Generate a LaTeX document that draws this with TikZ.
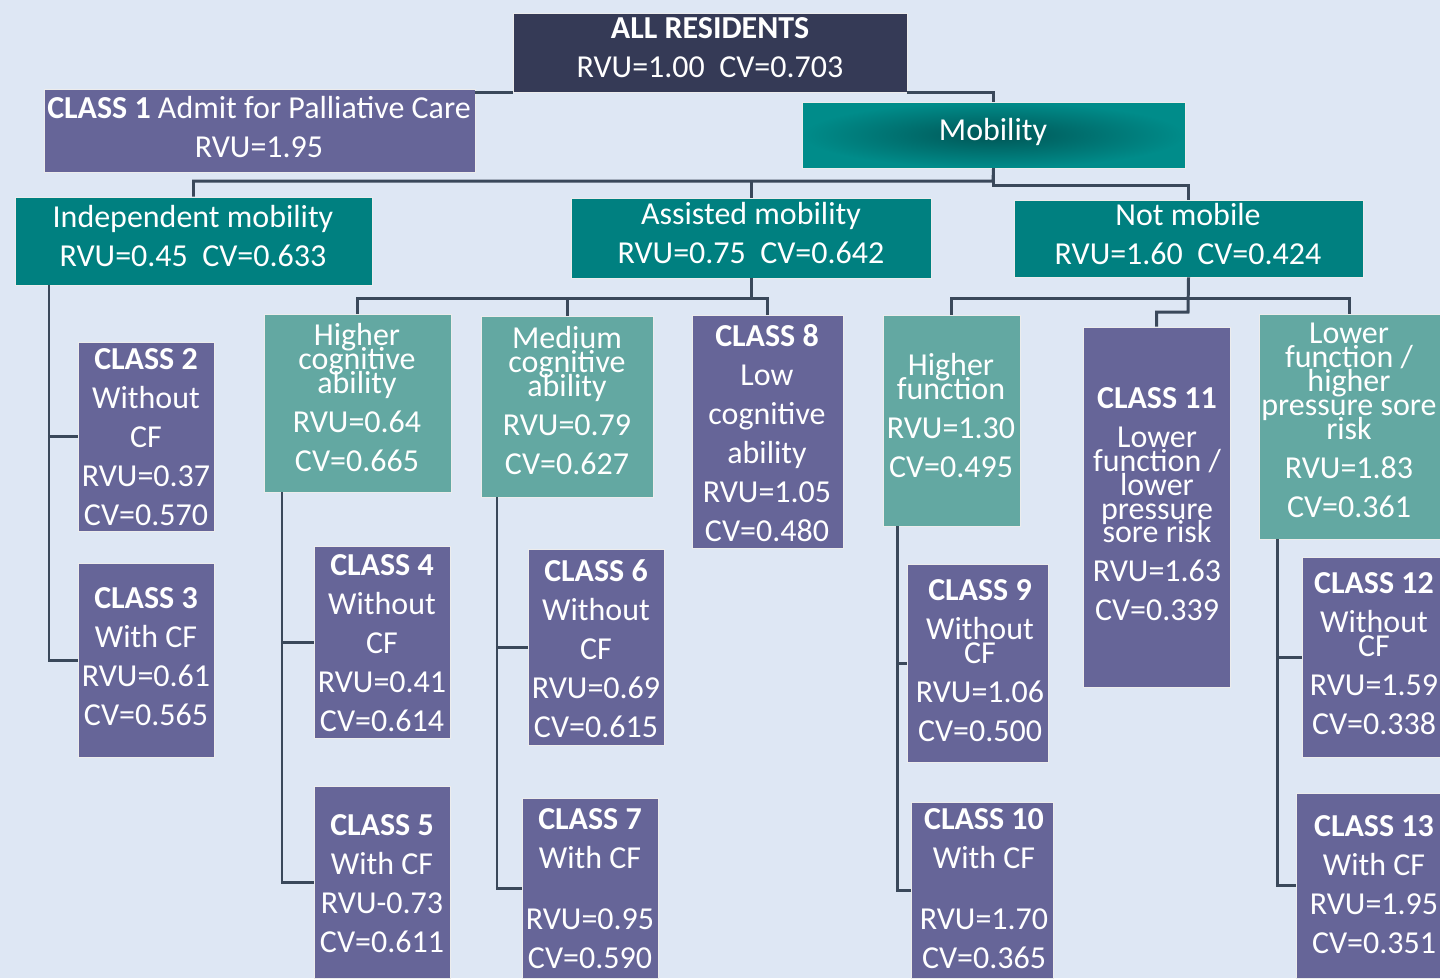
\documentclass[tikz,border=0pt]{standalone}
\usepackage{fontspec}
\setmainfont{Carlito}
\usetikzlibrary{fit, positioning}
\definecolor{bgcol}{RGB}{222,231,244}
\definecolor{navyc}{RGB}{53,58,86}
\definecolor{purplec}{RGB}{102,101,152}
\definecolor{tealc}{RGB}{0,128,128}
\definecolor{tealdark}{RGB}{0,86,86}
\definecolor{teallight}{RGB}{0,140,138}
\definecolor{lightc}{RGB}{99,168,162}
\definecolor{connc}{RGB}{58,72,90}
\tikzset{
    basebox/.style={inner sep=0pt, draw=white!85!gray, line width=0.5pt},
    navybox/.style={basebox, fill=navyc},
    purplebox/.style={basebox, fill=purplec},
    tealbox/.style={basebox, fill=tealc},
    lightbox/.style={basebox, fill=lightc},
    mobbox/.style={basebox, inner color=tealdark, outer color=teallight},
    txt/.style={text=white, align=center, inner sep=0pt, anchor=north,
        font=\fontsize{18.2}{22.2}\selectfont},
    conn/.style={draw=connc, line width=1.7pt}
}

\begin{document}
\begin{tikzpicture}[x=0.02cm, y=-0.02cm]
        \useasboundingbox (0,0) rectangle (1440,978);
        \fill[bgcol] (0,0) rectangle (1440,978);

        % top levels
        \node[navybox, fit={(513,13) (907,92)}] (all) {};
        \node[txt] (allt) at (710,17) {\textbf{ALL RESIDENTS}\\RVU=1.00\ \ CV=0.703};
        \node[purplebox, fit={(44,89) (475,172)}] (c1) {};
        \node[txt] (c1t) at (259,96) {\textbf{CLASS 1} Admit for Palliative Care\\RVU=1.95};
        \node[mobbox, fit={(802,102) (1185,168)}] (mob) {};
        \node[txt] (mobt) at (993,118) {Mobility};

        \node[tealbox, fit={(15,197) (372,285)}] (ind) {};
        \node[txt] (indt) at (193,205) {Independent mobility\\RVU=0.45\ \ CV=0.633};
        \node[tealbox, fit={(571,198) (931,278)}] (ass) {};
        \node[txt] (asst) at (751,202) {Assisted mobility\\RVU=0.75\ \ CV=0.642};
        \node[tealbox, fit={(1014,200) (1363,277)}] (notm) {};
        \node[txt] (notmt) at (1188,203) {Not mobile\\RVU=1.60\ \ CV=0.424};

        % independent mobility
        \node[purplebox, fit={(78,342) (214,531)}] (c2) {};
        \node[txt] (c2t) at (146,348) {\textbf{CLASS 2}\\Without\\CF\\RVU=0.37\\CV=0.570};
        \node[purplebox, fit={(78,563) (214,757)}] (c3) {};
        \node[txt] (c3t) at (146,587) {\textbf{CLASS 3}\\With CF\\RVU=0.61\\CV=0.565};

        % assisted mobility
        \node[lightbox, fit={(264,314) (451,492)}] (hc) {};
        \node[txt] (hct) at (357,323) {Higher\\[-8.6pt]cognitive\\[-8.6pt]ability\\RVU=0.64\\CV=0.665};
        \node[lightbox, fit={(481,316) (653,497)}] (med) {};
        \node[txt] (medt) at (567,326) {Medium\\[-8.6pt]cognitive\\[-8.6pt]ability\\RVU=0.79\\CV=0.627};
        \node[purplebox, fit={(692,315) (843,548)}] (c8) {};
        \node[txt] (c8t) at (767,324) {\textbf{CLASS 8}\\Low\\cognitive\\ability\\RVU=1.05\\CV=0.480};
        \node[purplebox, fit={(314,546) (450,738)}] (c4) {};
        \node[txt] (c4t) at (382,554) {\textbf{CLASS 4}\\Without\\CF\\RVU=0.41\\CV=0.614};
        \node[purplebox, fit={(314,786) (450,978)}] (c5) {};
        \node[txt] (c5t) at (382,814) {\textbf{CLASS 5}\\With CF\\RVU-0.73\\CV=0.611};
        \node[purplebox, fit={(528,549) (664,745)}] (c6) {};
        \node[txt] (c6t) at (596,559) {\textbf{CLASS 6}\\Without\\CF\\RVU=0.69\\CV=0.615};
        \node[purplebox, fit={(522,798) (658,978)}] (c7) {};
        \node[txt] (c7t) at (590,808) {\textbf{CLASS 7}\\With CF\\[12.8pt]RVU=0.95\\CV=0.590};

        % not mobile
        \node[lightbox, fit={(883,315) (1020,526)}] (hf) {};
        \node[txt] (hft) at (951,353) {Higher\\[-8.6pt]function\\RVU=1.30\\CV=0.495};
        \node[purplebox, fit={(1083,327) (1230,687)}] (c11) {};
        \node[txt] (c11t) at (1157,387) {\textbf{CLASS 11}\\Lower\\[-8.6pt]function /\\[-8.6pt]lower\\[-8.6pt]pressure\\[-8.6pt]sore risk\\RVU=1.63\\CV=0.339};
        \node[lightbox, fit={(1259,314) (1440,539)}] (lf) {};
        \node[txt] (lft) at (1349,323) {Lower\\[-8.6pt]function /\\[-8.6pt]higher\\[-8.6pt]pressure sore\\[-8.6pt]risk\\RVU=1.83\\CV=0.361};
        \node[purplebox, fit={(907,564) (1048,762)}] (c9) {};
        \node[txt] (c9t) at (980,579) {\textbf{CLASS 9}\\Without\\[-8.6pt]CF\\RVU=1.06\\CV=0.500};
        \node[purplebox, fit={(911,802) (1053,978)}] (c10) {};
        \node[txt] (c10t) at (984,808) {\textbf{CLASS 10}\\With CF\\[12.8pt]RVU=1.70\\CV=0.365};
        \node[purplebox, fit={(1302,557) (1440,757)}] (c12) {};
        \node[txt] (c12t) at (1374,572) {\textbf{CLASS 12}\\Without\\[-8.6pt]CF\\RVU=1.59\\CV=0.338};
        \node[purplebox, fit={(1296,793) (1440,978)}] (c13) {};
        \node[txt] (c13t) at (1374,815) {\textbf{CLASS 13}\\With CF\\RVU=1.95\\CV=0.351};

        % connectors
        \draw[conn] (all.south west) -- (c1.east |- all.south west);
        \draw[conn] (all.south east) -| (mob.north);
        \coordinate (mobbar) at (993,181);
        \draw[conn] (mob.south) -- (mobbar) -| (ind.north);
        \draw[conn] (ass.north) -- (ass.north |- mobbar);
        \draw[conn] (mob.south) -- ++(0,17) -| (notm.north);

        \coordinate (indspine) at (49,285);
        \draw[conn] (indspine) |- (c3.west);
        \draw[conn] (c2.west) -- (c2.west -| indspine);

        \coordinate (abar) at (751,298);
        \draw[conn] (ass.south) -- (abar);
        \draw[conn] (hc.north) |- (abar) -| (c8.north);
        \draw[conn] (med.north) -- (med.north |- abar);
        \coordinate (hcspine) at (282,492);
        \draw[conn] (hcspine) |- (c5.west);
        \draw[conn] (c4.west) -- (c4.west -| hcspine);
        \coordinate (medspine) at (497,497);
        \draw[conn] (medspine) |- (c7.west);
        \draw[conn] (c6.west) -- (c6.west -| medspine);

        \coordinate (nbar) at (1188,298);
        \draw[conn] (notm.south) -- (1188,312) -| (c11.north);
        \draw[conn] (hf.north) |- (nbar) -| (lf.north);
        \coordinate (hfspine) at (897,526);
        \draw[conn] (hfspine) |- (c10.west);
        \draw[conn] (c9.west) -- (c9.west -| hfspine);
        \coordinate (lfspine) at (1277,539);
        \draw[conn] (lfspine) |- (c13.west);
        \draw[conn] (c12.west) -- (c12.west -| lfspine);
\end{tikzpicture}
\end{document}
